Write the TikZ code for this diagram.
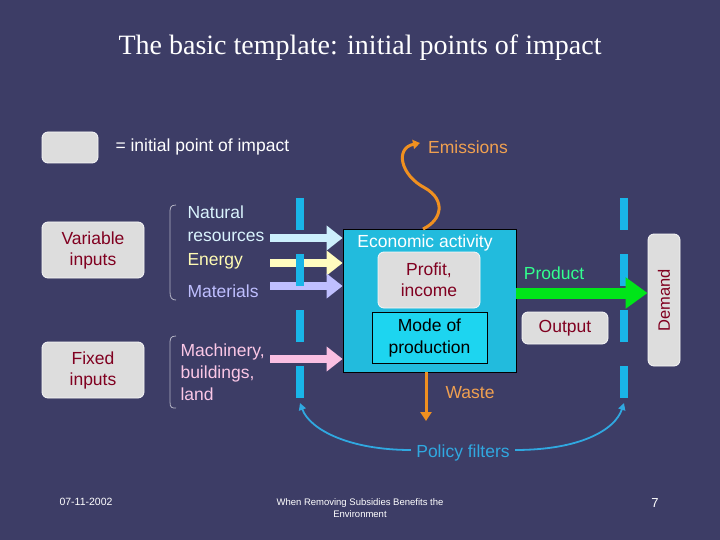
\documentclass[tikz,border=0pt]{standalone}
\usepackage{fontspec}
\setmainfont{Liberation Sans}
\newfontfamily\titlefont{Liberation Serif}
\usetikzlibrary{arrows.meta}
\definecolor{bg}{HTML}{3D3D66}
\definecolor{gbox}{HTML}{DDDDDD}
\definecolor{dred}{HTML}{800020}
\definecolor{bar}{HTML}{19B5E8}
\definecolor{ecobox}{HTML}{22BBDD}
\definecolor{modebox}{HTML}{1DD5F0}
\definecolor{orng}{HTML}{F09020}
\definecolor{orngt}{HTML}{F0A050}
\definecolor{pol}{HTML}{30A8E0}
\begin{document}
\begin{tikzpicture}[x=1pt,y=-1pt,
  gray box/.style={fill=gbox,rounded corners=6pt,draw=white!80!gbox,line width=0.8pt},
  redtxt/.style={text=dred,font=\fontsize{17.5}{21}\selectfont,align=center},
  wtxt/.style={font=\fontsize{17.5}{21}\selectfont,align=left,anchor=west},
  fatarrow/.style={line width=8pt,-{Triangle[length=16pt,width=24pt]}},
  barseg/.style={line width=8pt,draw=bar}]
\fill[bg] (0,0) rectangle (720,540);
\useasboundingbox (0,0) rectangle (720,540);
\node[text=white,font=\titlefont\fontsize{28}{32}\selectfont] (title) at (360,48) {The basic template: initial points of impact};
% legend
\draw[gray box] (42,132) rectangle (98,163);
\node[wtxt,text=white] (leg) at (112,147) {= initial point of impact};
% left boxes
\draw[gray box] (42,222) rectangle (144,278);
\node[redtxt] (var) at (93,250) {Variable\\inputs};
\draw[gray box] (42,342) rectangle (144,398);
\node[redtxt] (fix) at (93,370) {Fixed\\inputs};
% brackets
\draw[white!60!bg,line width=0.8pt] (176,205) .. controls (170,205) and (170,208) .. (170,214) -- (170,292) .. controls (170,298) and (172,300) .. (176,300);
\draw[white!60!bg,line width=0.8pt] (176,336) .. controls (170,336) and (170,339) .. (170,345) -- (170,402) .. controls (170,408) and (172,408) .. (176,408);
% labels
\node[wtxt,text=cyan!15!white,font=\fontsize{17.5}{23}\selectfont] (nat) at (184,224) {Natural\\resources};
\node[wtxt,text=yellow!30!white] (ene) at (184,261) {Energy};
\node[wtxt,text=blue!25!white] (mat) at (184,291) {Materials};
\node[wtxt,text=magenta!22!white,font=\fontsize{17.5}{22}\selectfont] (mach) at (177,372) {Machinery,\\buildings,\\land};
% bars
\foreach \x in {300,624}{
  \foreach \a/\b in {198/230,254/286,310/342,366/398}{
    \draw[barseg] (\x,\a) -- (\x,\b);}}
% main box
\node[draw=black,fill=ecobox,minimum width=173pt,minimum height=143pt,inner sep=0pt,line width=0.8pt] (eco) at (429.5,300.5) {};
\node[text=white,font=\fontsize{17.5}{21}\selectfont] (ecot) at (425,243) {Economic activity};
\node[gray box,minimum width=102pt,minimum height=56pt,redtxt] (profit) at (429,280) {Profit,\\income};
\node[draw=black,fill=modebox,minimum width=115pt,minimum height=51pt,line width=0.8pt,align=center,font=\fontsize{17.5}{22}\selectfont] (mode) at (429.5,337.5) {Mode of\\production};
% input arrows
\coordinate (a1) at (270,238); \coordinate (a2) at (270,263);
\coordinate (a3) at (270,286); \coordinate (a4) at (270,359);
\draw[fatarrow,draw=cyan!20!white,fill=cyan!20!white] (a1) -- (a1 -| eco.west);
\draw[fatarrow,draw=yellow!25!white,fill=yellow!25!white] (a2) -- (a2 -| eco.west);
\draw[fatarrow,draw=blue!25!white,fill=blue!25!white] (a3) -- (a3 -| eco.west);
\draw[fatarrow,draw=magenta!25!white,fill=magenta!25!white] (a4) -- (a4 -| eco.west);
\draw[barseg] (300,254) -- (300,286);
% demand
\node[gray box,minimum width=32pt,minimum height=132pt] (dem) at (664,300) {};
\node[rotate=90,text=dred,font=\fontsize{16.5}{18}\selectfont] at (dem) {Demand};
% product
\coordinate (p0) at (516,293);
\draw[line width=11pt,draw=green!90!blue,-{Triangle[length=22pt,width=30pt]}] (p0) -- (p0 -| dem.west);
\node[text=green!55!cyan!80!white,font=\fontsize{17.5}{21}\selectfont] (prod) at (554,273) {Product};
\node[gray box,minimum width=86pt,minimum height=32pt,redtxt] (out) at (565,328) {Output};
% emissions
\node[text=orngt,font=\fontsize{17.5}{21}\selectfont] (emi) at (468,147) {Emissions};
\draw[orng,line width=3pt,-{Triangle[length=7pt,width=9pt]}] (423,229) .. controls (442,220) and (446,200) .. (425,188) .. controls (400,175) and (395,148) .. (420,143);
% waste
\draw[orng,line width=3pt,-{Triangle[length=9pt,width=11pt]}] (426,372) -- (426,421);
\node[text=orngt,font=\fontsize{17.5}{21}\selectfont] (waste) at (470,393) {Waste};
% policy
\node[text=pol,font=\fontsize{17.5}{21}\selectfont] (poli) at (463,453) {Policy filters};
\draw[pol,line width=1.8pt,-{Triangle[length=7pt,width=7pt]}] (poli.west) ++(-2,-3) .. controls (350,450) and (310,430) .. (300,403);
\draw[pol,line width=1.8pt,-{Triangle[length=7pt,width=7pt]}] (poli.east) ++(2,-3) .. controls (580,450) and (615,430) .. (624,403);
% footer
\node[text=white,font=\fontsize{10.5}{12}\selectfont] (date) at (86,502) {07-11-2002};
\node[text=white,font=\fontsize{9.5}{12}\selectfont,align=center] (foot) at (360,508) {When Removing Subsidies Benefits the\\Environment};
\node[text=white,font=\fontsize{13}{14}\selectfont] (pg) at (655,503) {7};
\end{tikzpicture}
\end{document}
